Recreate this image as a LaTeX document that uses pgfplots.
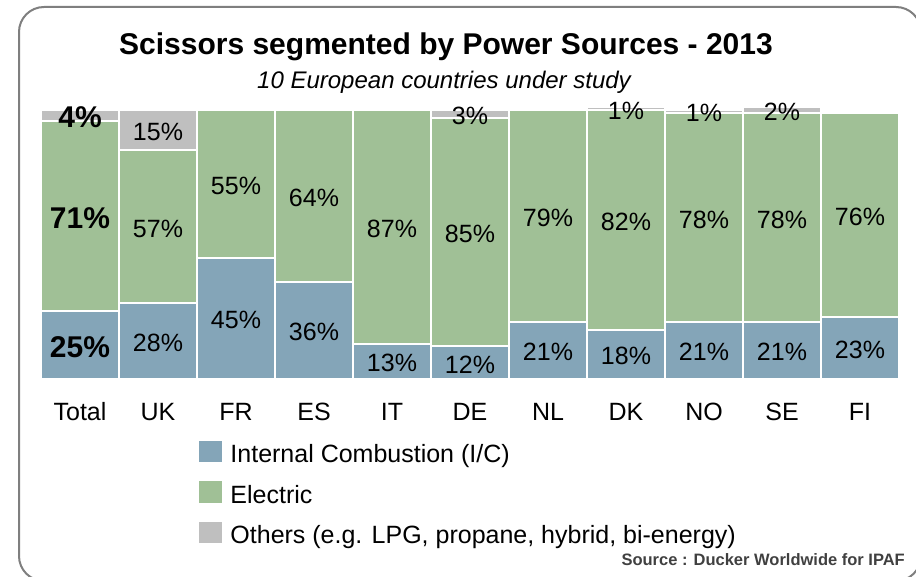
\documentclass[border=0pt]{standalone}
\usepackage{pgfplots}
\pgfplotsset{compat=1.18}
\usepackage{fontspec}
\setmainfont{Liberation Sans}
\definecolor{icblue}{RGB}{132,165,184}
\definecolor{elgreen}{RGB}{160,192,150}
\definecolor{othgrey}{RGB}{191,191,191}
\definecolor{framegrey}{RGB}{127,127,127}
\definecolor{srcgrey}{RGB}{64,64,64}
\pgfplotsset{sqlegend/.style={legend image code/.code={\fill[##1,draw=none] (0pt,0.5pt) rectangle (23pt,22pt);}}}
\begin{document}
\begin{tikzpicture}
\useasboundingbox (0pt,0pt) rectangle (916pt,576pt);
\draw[line width=2pt, framegrey, rounded corners=25pt] (19pt,569pt) rectangle (921pt,-5pt);
\node[font=\bfseries\fontsize{30}{36}\selectfont, anchor=base, inner sep=0pt] at (446pt,521pt) {Scissors segmented by Power Sources - 2013};
\node[font=\itshape\fontsize{24}{29}\selectfont, anchor=base, inner sep=0pt] at (444pt,487.5pt) {10 European countries under study};
\node[font=\bfseries\fontsize{16.5}{20}\selectfont, text=srcgrey, anchor=base east, inner sep=0pt] at (905pt,11pt) {Source : Ducker Worldwide for IPAF};
\begin{axis}[
  at={(41pt,197.5pt)}, anchor=south west,
  scale only axis, width=858pt, height=273.87pt,
  xmin=-0.5, xmax=10.5, ymin=0, ymax=102,
  ybar stacked, bar width=77.5pt,
  reverse stacked plots=false,
  axis line style={draw=none}, tick style={draw=none},
  ytick=\empty,
  xtick={0,...,10},
  xticklabels={Total,UK,FR,ES,IT,DE,NL,DK,NO,SE,FI},
  xticklabel style={font=\fontsize{25}{30}\selectfont, text height=18pt, text depth=0pt, inner sep=0pt, anchor=north, yshift=-24pt},
  clip mode=individual,
  point meta=rawy,
  /pgf/number format/assume math mode=true,
  visualization depends on=rawx\as\rawx,
  nodes near coords={\pgfmathfloatifflags{\pgfplotspointmeta}{0}{}{\pgfmathprintnumber{\pgfplotspointmeta}\%}},
  every node near coord/.append style={anchor=center, inner sep=0pt, text=black,
     yshift=-2pt,
     font={\ifdim\rawx pt<0.5pt\bfseries\fontsize{30}{36}\selectfont\else\fontsize{25}{30}\selectfont\fi}},
  legend style={at={(0.1841,-0.2271)}, anchor=north west, draw=none, fill=none, inner sep=0pt, outer sep=0pt,
     row sep=13.5pt, column sep=8.5pt, font=\fontsize{25}{30}\selectfont,
     nodes={inner sep=0pt, text height=18pt, text depth=5pt, anchor=base west}},
  legend cell align=left,
]
\addplot[fill=icblue, draw=white, line width=2pt, sqlegend] coordinates
 {(0,25) (1,28) (2,45) (3,36) (4,13) (5,12) (6,21) (7,18) (8,21) (9,21) (10,23)};
\addlegendentry{Internal Combustion (I/C)}
\addplot[fill=elgreen, draw=white, line width=2pt, sqlegend] coordinates
 {(0,71) (1,57) (2,55) (3,64) (4,87) (5,85) (6,79) (7,82) (8,78) (9,78) (10,76)};
\addlegendentry{Electric}
\addplot[fill=othgrey, draw=white, line width=2pt, sqlegend] coordinates
 {(0,4) (1,15) (2,0) (3,0) (4,0) (5,3) (6,0) (7,1) (8,1) (9,2) (10,0)};
\addlegendentry{Others (e.g. LPG, propane, hybrid, bi-energy)}
\end{axis}
\end{tikzpicture}
\end{document}
